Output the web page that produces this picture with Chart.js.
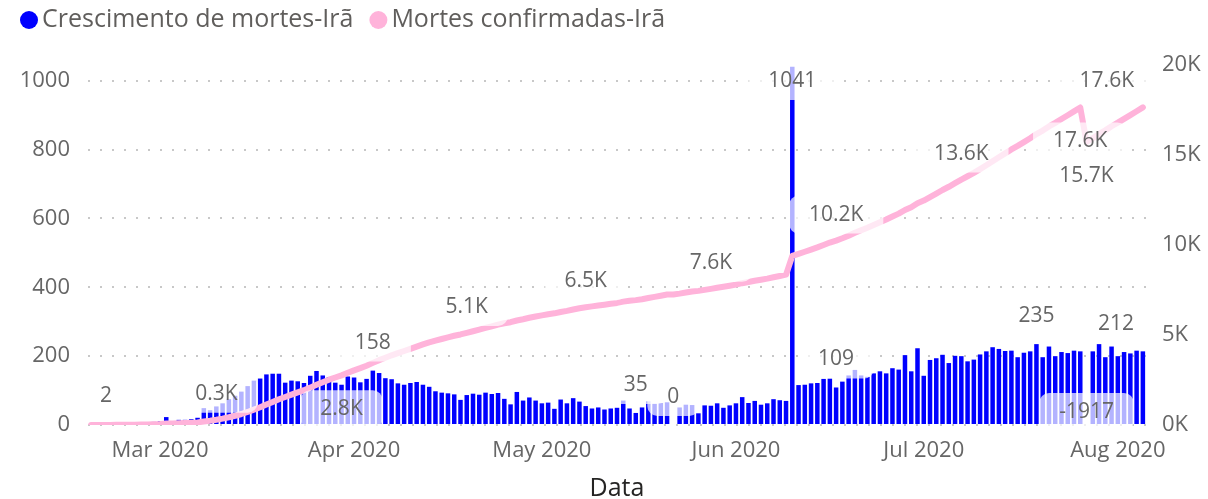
<!DOCTYPE html>
<html>
<head>
<meta charset="utf-8">
<title>Mortes Irã</title>
<script src="https://cdn.jsdelivr.net/npm/chart.js@4.4.1/dist/chart.umd.min.js"></script>
<style>
  html, body { margin: 0; padding: 0; background: #fff; }
  canvas { display: block; }
</style>
</head>
<body>
<canvas id="chart" width="1208" height="499"></canvas>
<script>
// Daily series, one value per day starting at firstDay
const firstDay = '2020-02-19';

// Crescimento de mortes-Irã (daily growth)
const deathGrowth = [
    2, 0, 2, 1, 3, 4, 4, 3, 7, 8,
    9, 11, 23, 0, 15, 15, 17, 21, 49, 43,
    54, 63, 75, 85, 97, 113, 129, 135, 147, 149,
    149, 123, 129, 127, 122, 143, 157, 144, 139, 123,
    117, 141, 138, 124, 134, 158, 151, 136, 133, 121,
    117, 122, 125, 117, 111, 98, 94, 92, 89, 73,
    87, 91, 88, 94, 90, 93, 76, 60, 96, 71,
    80, 71, 63, 65, 47, 74, 63, 78, 68, 55,
    48, 51, 45, 48, 50, 71, 48, 35, 51, 69,
    62, 64, 66, 0, 51, 59, 58, 34, 57, 56,
    63, 50, 57, 63, 81, 64, 70, 59, 63, 75,
    72, 70, 1041, 116, 117, 121, 122, 134, 135, 109,
    126, 144, 160, 144, 140, 150, 156, 150, 165, 161,
    203, 156, 223, 143, 189, 194, 204, 180, 201, 200,
    185, 190, 205, 214, 226, 221, 215, 216, 197, 210,
    214, 235, 197, 228, 200, 212, 209, 216, 214, -1917,
    214, 235, 197, 228, 200, 212, 208, 216, 214
];

// Mortes confirmadas-Irã (running total)
const confirmedDeaths = [
    2, 2, 4, 5, 8, 12, 16, 19, 26, 34,
    43, 54, 77, 77, 92, 107, 124, 145, 194, 237,
    291, 354, 429, 514, 611, 724, 853, 988, 1135, 1284,
    1433, 1556, 1685, 1812, 1934, 2077, 2234, 2378, 2517, 2640,
    2757, 2898, 3036, 3160, 3294, 3452, 3603, 3739, 3872, 3993,
    4110, 4232, 4357, 4474, 4585, 4683, 4777, 4869, 4958, 5031,
    5118, 5209, 5297, 5391, 5481, 5574, 5650, 5710, 5806, 5877,
    5957, 6028, 6091, 6156, 6203, 6277, 6340, 6418, 6486, 6541,
    6589, 6640, 6685, 6733, 6783, 6854, 6902, 6937, 6988, 7057,
    7119, 7183, 7249, 7249, 7300, 7359, 7417, 7451, 7508, 7564,
    7627, 7677, 7734, 7797, 7878, 7942, 8012, 8071, 8134, 8209,
    8281, 8351, 9392, 9508, 9625, 9746, 9868, 10002, 10137, 10246,
    10372, 10516, 10676, 10820, 10960, 11110, 11266, 11416, 11581, 11742,
    11945, 12101, 12324, 12467, 12656, 12850, 13054, 13234, 13435, 13635,
    13820, 14010, 14215, 14429, 14655, 14876, 15091, 15307, 15504, 15714,
    15928, 16163, 16360, 16588, 16788, 17000, 17209, 17425, 17639, 15722,
    15936, 16171, 16368, 16596, 16796, 17008, 17216, 17432, 17646
];

const tickDates = ['2020-03-01', '2020-04-01', '2020-05-01', '2020-06-01', '2020-07-01', '2020-08-01'];
const tickLabels = ['Mar 2020', 'Apr 2020', 'May 2020', 'Jun 2020', 'Jul 2020', 'Aug 2020'];

// which points get a data label
const barLabelAt = [0, 45, 87, 93, 112, 119, 151, 159, 165];
const lineLabelAt = [20, 40, 60, 79, 99, 119, 139, 158, 159, 168];
const lineLabelBelow = [40, 158, 159];

const FONT = "'Open Sans', sans-serif";
const BLUE = '#0000FF';
const PINK = '#FFB3DA';
const GREY = '#666666';

// one category per day
const days = [];
const d0 = new Date(firstDay + 'T00:00:00Z');
for (let i = 0; i < deathGrowth.length; i++) {
    const d = new Date(d0.getTime() + i * 86400000);
    days.push(d.toISOString().slice(0, 10));
}

const fmtK = v => (v / 1000).toFixed(1) + 'K';

function roundRect(ctx, x, y, w, h, r) {
    ctx.beginPath();
    ctx.moveTo(x + r, y);
    ctx.arcTo(x + w, y, x + w, y + h, r);
    ctx.arcTo(x + w, y + h, x, y + h, r);
    ctx.arcTo(x, y + h, x, y, r);
    ctx.arcTo(x, y, x + w, y, r);
    ctx.closePath();
}

// data labels with a translucent white box behind the text
const dataLabels = {
    id: 'dataLabels',
    afterDatasetsDraw(chart) {
        const { ctx, chartArea } = chart;
        const bars = chart.getDatasetMeta(0).data;
        const line = chart.getDatasetMeta(1).data;
        const items = [];

        barLabelAt.forEach(i => {
            const v = deathGrowth[i];
            let y;
            if (v < 0) y = chartArea.bottom - 13;
            else y = Math.max(bars[i].y - 28, chartArea.top + 16);
            items.push({ x: bars[i].x, y, text: String(v) });
        });
        lineLabelAt.forEach(i => {
            const p = line[i];
            const y = lineLabelBelow.includes(i) ? p.y + 34 : p.y - 26;
            items.push({ x: p.x, y, text: fmtK(confirmedDeaths[i]) });
        });

        ctx.save();
        ctx.font = '21px ' + FONT;
        ctx.textAlign = 'center';
        ctx.textBaseline = 'middle';
        items.forEach(it => {
            const w = ctx.measureText(it.text).width + 40;
            const h = 38;
            const lo = chartArea.left - 8 + w / 2;
            const hi = chartArea.right + 8 - w / 2;
            const cx = Math.min(Math.max(it.x, lo), hi);
            ctx.fillStyle = 'rgba(255, 255, 255, 0.7)';
            roundRect(ctx, cx - w / 2, it.y - h / 2, w, h, 10);
            ctx.fill();
            ctx.fillStyle = GREY;
            ctx.fillText(it.text, cx, it.y);
        });
        ctx.restore();
    }
};

// legend row across the top left
const legendRow = {
    id: 'legendRow',
    afterDraw(chart) {
        const ctx = chart.ctx;
        const colors = [BLUE, PINK];
        ctx.save();
        ctx.font = '25px ' + FONT;
        ctx.textBaseline = 'middle';
        let x = 20;
        const y = 20;
        chart.data.datasets.forEach((ds, i) => {
            ctx.fillStyle = colors[i];
            ctx.beginPath();
            ctx.arc(x + 9, y, 9, 0, Math.PI * 2);
            ctx.fill();
            ctx.fillStyle = '#605E5C';
            ctx.fillText(ds.label, x + 22, y);
            x += 22 + ctx.measureText(ds.label).width + 16;
        });
        ctx.restore();
    }
};

new Chart(document.getElementById('chart'), {
    data: {
        labels: days,
        datasets: [
            {
                type: 'bar',
                label: 'Crescimento de mortes-Irã',
                data: deathGrowth,
                yAxisID: 'y',
                backgroundColor: BLUE,
                borderWidth: 0,
                barPercentage: 0.72,
                categoryPercentage: 1.0,
                order: 1
            },
            {
                type: 'line',
                label: 'Mortes confirmadas-Irã',
                data: confirmedDeaths,
                yAxisID: 'y1',
                borderColor: PINK,
                borderWidth: 6,
                borderCapStyle: 'round',
                borderJoinStyle: 'round',
                pointRadius: 0,
                tension: 0,
                order: 0
            }
        ]
    },
    options: {
        responsive: false,
        animation: false,
        layout: { padding: { top: 65, left: 0, right: 0, bottom: 0 } },
        plugins: {
            legend: { display: false },
            tooltip: { enabled: false }
        },
        scales: {
            x: {
                grid: { display: false, drawTicks: false },
                border: { display: false },
                ticks: {
                    autoSkip: false,
                    maxRotation: 0,
                    minRotation: 0,
                    padding: 13,
                    color: GREY,
                    font: { family: FONT, size: 22 },
                    callback(value) {
                        const k = tickDates.indexOf(days[value]);
                        return k >= 0 ? tickLabels[k] : null;
                    }
                },
                title: {
                    display: true,
                    text: 'Data',
                    color: '#252423',
                    font: { family: FONT, size: 25 },
                    padding: { top: 0, bottom: -5 }
                },
                afterFit(scale) { scale.height = 74; }
            },
            y: {
                position: 'left',
                min: 0,
                max: 1046,
                grid: { color: '#C8C8C8', lineWidth: 2, drawTicks: false },
                border: { display: false, dash: [2, 10] },
                ticks: {
                    stepSize: 200,
                    includeBounds: false,
                    padding: 18,
                    color: GREY,
                    font: { family: FONT, size: 22 },
                    callback: v => String(v)
                },
                afterFit(scale) { scale.width = 88; }
            },
            y1: {
                position: 'right',
                min: 0,
                max: 20000,
                grid: { display: false, drawTicks: false },
                border: { display: false },
                ticks: {
                    stepSize: 5000,
                    padding: 16,
                    color: GREY,
                    font: { family: FONT, size: 22 },
                    callback: v => (v / 1000) + 'K'
                },
                afterFit(scale) { scale.width = 62; }
            }
        }
    },
    plugins: [dataLabels, legendRow]
});
</script>
</body>
</html>
